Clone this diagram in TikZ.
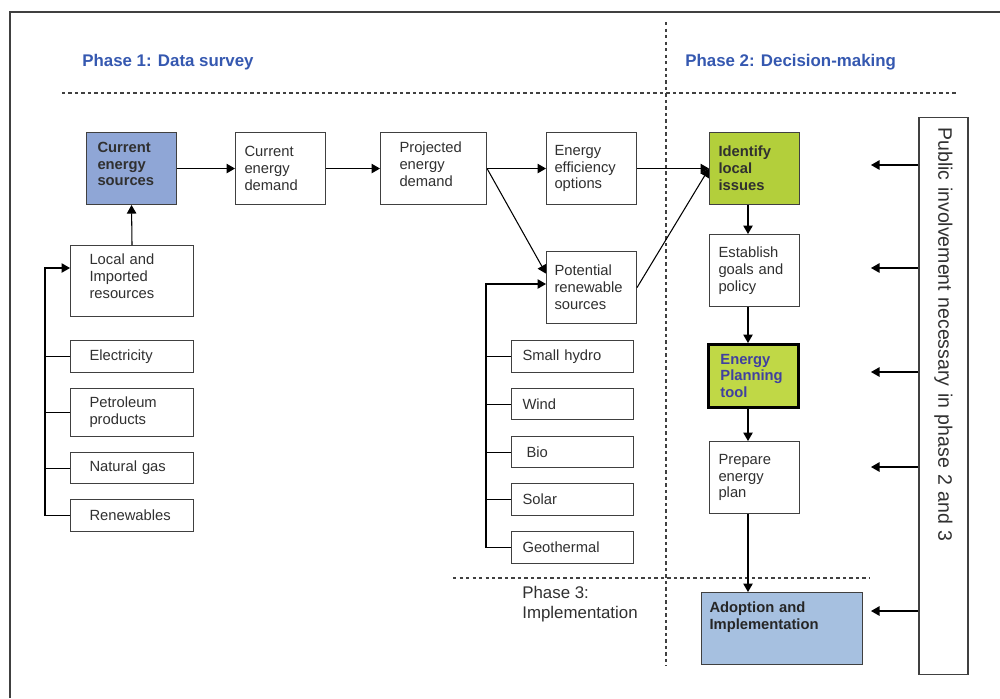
\documentclass[tikz,border=0pt]{standalone}
\usepackage{fontspec}
\setmainfont{Liberation Sans}
\usetikzlibrary{arrows.meta,calc}
\newcommand\boxfont{\fontsize{8.4}{9.6}\selectfont}
\newcommand\headfont{\fontsize{9.6}{11.3}\selectfont}

\begin{document}
\begin{tikzpicture}[x=0.02cm,y=-0.02cm,
	box/.style={draw=edge,line width=0.6pt,fill=white,text=ink,font=\boxfont,align=left,anchor=north west,inner ysep=0pt,text width=1.4cm,inner xsep=0.2cm},
	wide/.style={text width=1.7cm,inner xsep=0.38cm},
	src/.style={text width=2cm,inner xsep=0.22cm},
	tall/.style={minimum height=1.44cm},
	flat/.style={minimum height=0.64cm},
	lifted/.style={execute at end node={\endgraf\vspace{0.18cm}}},
	head/.style={font=\headfont\bfseries,text=title,anchor=west,inner sep=0pt},
	sep/.style={draw=edge,line width=0.6pt,dash pattern=on 0.065cm off 0.065cm},
	arr/.style={-{Triangle[length=0.17cm,width=0.19cm]},line width=0.6pt},
	link/.style={line width=0.6pt}]
	\definecolor{edge}{HTML}{404040}
	\definecolor{ink}{HTML}{303030}
	\definecolor{title}{HTML}{3558B0}
	\definecolor{survey}{HTML}{8FA6D6}
	\definecolor{issues}{HTML}{B3CF3B}
	\definecolor{tool}{HTML}{C0D846}
	\definecolor{toolink}{HTML}{4040A0}
	\definecolor{adopt}{HTML}{A6C0E0}
	\useasboundingbox (0,0) rectangle (1000,698);

	% frame, phase separators and headings
	\draw[edge,line width=0.6pt] (10,698) -- (10,12) -- (1000,12);
	\draw[sep] (62,93) -- (958,93);
	\draw[sep] (666,22) -- (666,666);
	\draw[sep] (453,578) -- (870,578);
	\node[head] (ph1) at (82,62) {Phase 1: Data survey};
	\node[head] (ph2) at (685,62) {Phase 2: Decision-making};
	\node[font=\headfont,text=ink,align=left,anchor=west,inner sep=0pt] (ph3) at (522,604) {Phase 3:\\Implementation};

	% phase 1
	\node[box,tall,lifted,fill=survey,text width=1.36cm,inner xsep=0.22cm,font=\boxfont\bfseries] (ces) at (86,132) {Current\\energy\\sources};
	\node[box,tall,text width=1.44cm,inner xsep=0.18cm] (ced) at (235,132) {Current\\energy\\demand};
	\node[box,tall,lifted,text width=1.36cm,inner xsep=0.38cm] (ped) at (380,132) {Projected\\energy\\demand};
	\node[box,tall,text width=1.48cm,inner xsep=0.16cm] (eeo) at (546,132) {Energy\\efficiency\\options};
	\node[box,tall,text width=1.48cm,inner xsep=0.16cm] (prs) at (546,251) {Potential\\renewable\\sources};

	\node[box,wide,lifted,minimum height=1.42cm] (lir) at (70,245) {Local and\\Imported\\resources};
	\node[box,wide,flat] (ele) at (70,340) {Electricity};
	\node[box,wide,minimum height=0.96cm] (pet) at (70,388) {Petroleum\\products};
	\node[box,wide,minimum height=0.62cm] (gas) at (70,452) {Natural gas};
	\node[box,wide,flat] (ren) at (70,499) {Renewables};

	\node[box,src,flat] (shy) at (511,340) {Small hydro};
	\node[box,src,minimum height=0.62cm] (wnd) at (511,388) {Wind};
	\node[box,src,minimum height=0.62cm] (bio) at (511,436) {\hspace*{0.08cm}Bio};
	\node[box,src,flat] (sol) at (511,483) {Solar};
	\node[box,src,flat] (geo) at (511,531) {Geothermal};

	% phase 2 and 3
	\node[box,tall,fill=issues,text width=1.44cm,inner xsep=0.18cm,font=\boxfont\bfseries] (idi) at (709,132) {Identify\\local\\issues};
	\node[box,tall,text width=1.44cm,inner xsep=0.18cm] (egp) at (709,234) {Establish\\goals and\\policy};
	\node[box,minimum height=1.26cm,fill=tool,draw=black,line width=1.6pt,text width=1.32cm,inner xsep=0.24cm,text=toolink,font=\boxfont\bfseries] (ept) at (707,343) {Energy\\Planning\\tool};
	\node[box,tall,text width=1.44cm,inner xsep=0.18cm] (pep) at (709,441) {Prepare\\energy\\plan};
	\node[box,tall,fill=adopt,text width=2.9cm,inner xsep=0.16cm,text=black!85,font=\boxfont\bfseries] (adi) at (701,592) {Adoption and\\Implementation\par\vspace{0.44cm}};
	\node[box,rotate=-90,anchor=west,minimum height=0.98cm,text width=10.74cm,inner xsep=0.2cm,font=\fontsize{11.1}{13}\selectfont] (pub) at (943.5,117) {Public involvement necessary in phase 2 and 3};

	% connectors
	\coordinate (lbus) at (45,268);
	\coordinate (rbus) at (486,284);
	\draw[arr] (lir.north) -- (ces.south);
	\draw[arr] (ren.west) -| (lbus) -- (lbus -| lir.west);
	\foreach \n in {ele,pet,gas}
		\draw[link] (\n.west) -- (\n.west -| lbus);
	\draw[arr] (geo.west) -| (rbus) -- (rbus -| prs.west);
	\foreach \n in {shy,wnd,bio,sol}
		\draw[link] (\n.west) -- (\n.west -| rbus);
	\draw[arr] (ces.east) -- (ced.west);
	\draw[arr] (ced.east) -- (ped.west);
	\draw[arr] (ped.east) -- (eeo.west);
	\draw[arr] (ped.east) -- ($(prs.north west)!0.31!(prs.south west)$);
	\draw[arr] (eeo.east) -- (idi.west);
	\draw[arr] (prs.east) -- (idi.west);
	\draw[arr] (idi.south -| 748,0) -- (egp.north -| 748,0);
	\draw[arr] (egp.south -| 748,0) -- (ept.north -| 748,0);
	\draw[arr] (ept.south -| 748,0) -- (pep.north -| 748,0);
	\draw[arr] (pep.south -| 748,0) -- (adi.north -| 748,0);
	\foreach \y [count=\i] in {165,268,372,467,611} {
		\coordinate (pin\i) at (871,\y);
		\draw[arr] (pub.south |- pin\i) -- (pin\i);
	}
\end{tikzpicture}
\end{document}
